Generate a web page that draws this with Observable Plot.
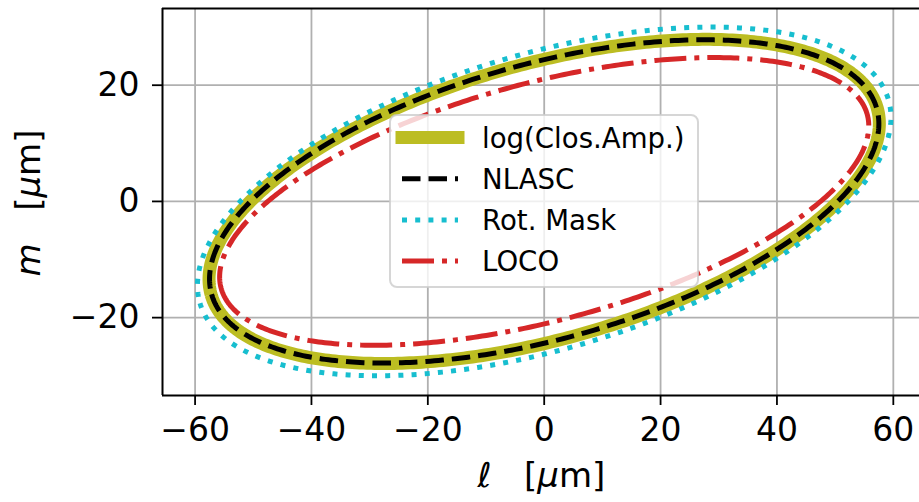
<!DOCTYPE html>
<html>
<head>
<meta charset="utf-8">
<script src="https://cdn.jsdelivr.net/npm/d3@7"></script>
<script src="https://cdn.jsdelivr.net/npm/@observablehq/plot@0.6"></script>
<style>
  html, body { margin: 0; padding: 0; background: #fff; }
  #wrap { position: relative; width: 919px; height: 502px; font-family: "DejaVu Sans", sans-serif; overflow: hidden; }
  .lab { position: absolute; font-size: 34px; line-height: 1; white-space: pre; color: #000; }
</style>
</head>
<body>
<div id="wrap"></div>
<script>
// ---- data (ellipse parameters, in µm / degrees) ----
const seriesNames = ["log(Clos.Amp.)", "NLASC", "Rot. Mask", "LOCO"];
const semiMajor   = [59.45, 59.35, 61.7, 57.5];
const semiMinor   = [23.7, 23.65, 25.4, 20.45];
const tiltDeg     = [15.65, 15.6, 16.5, 15.05];
const xTicks = [-60, -40, -20, 0, 20, 40, 60];
const yTicks = [-20, 0, 20];
const xDomain = [-65.6, 64.5];
const yDomain = [-33.4, 33.2];

// ---- styles ----
const styles = [
  {stroke: "#bcbd22", strokeWidth: 13, strokeDasharray: null},
  {stroke: "#000000", strokeWidth: 5, strokeDasharray: "18.5,8"},
  {stroke: "#17becf", strokeWidth: 5, strokeDasharray: "5,8.2"},
  {stroke: "#d62728", strokeWidth: 5, strokeDasharray: "32,8,5,8"}
];

// ellipse outline points from each series' parameters
const N = 480;
const curves = seriesNames.map((name, i) => {
  const a = semiMajor[i], b = semiMinor[i], th = tiltDeg[i] * Math.PI / 180;
  const pts = [];
  for (let k = 0; k <= N; k++) {
    const t = Math.PI + 2 * Math.PI * k / N;
    pts.push({
      series: name,
      l: a * Math.cos(t) * Math.cos(th) - b * Math.sin(t) * Math.sin(th),
      m: a * Math.cos(t) * Math.sin(th) + b * Math.sin(t) * Math.cos(th)
    });
  }
  return pts;
});

const chart = Plot.plot({
  width: 919,
  height: 502,
  marginLeft: 162,
  marginRight: 0,
  marginTop: 8,
  marginBottom: 107,
  style: {fontFamily: "DejaVu Sans, sans-serif", fontSize: "33px", color: "#000", background: "#fff"},
  x: {domain: xDomain},
  y: {domain: yDomain},
  marks: [
    Plot.gridX(xTicks, {stroke: "#b0b0b0", strokeOpacity: 1, strokeWidth: 1.8}),
    Plot.gridY(yTicks, {stroke: "#b0b0b0", strokeOpacity: 1, strokeWidth: 1.8}),
    ...curves.map((pts, i) => Plot.line(pts, {
      x: "l", y: "m",
      stroke: styles[i].stroke,
      strokeWidth: styles[i].strokeWidth,
      strokeDasharray: styles[i].strokeDasharray,
      strokeLinecap: "butt",
      strokeLinejoin: "round",
      curve: "linear"
    })),
    Plot.ruleX([xDomain[0]], {stroke: "#000", strokeWidth: 2}),
    Plot.ruleY(yDomain, {stroke: "#000", strokeWidth: 2}),
    Plot.axisX(xTicks, {tickSize: 10, tickPadding: 12, strokeWidth: 1.8, fontSize: 33, label: null}),
    Plot.axisY(yTicks, {tickSize: 10, tickPadding: 13, strokeWidth: 1.8, fontSize: 33, label: null})
  ]
});

const wrap = document.getElementById("wrap");
wrap.appendChild(chart);

// ---- axis labels ----
const xl = document.createElement("div");
xl.className = "lab";
xl.innerHTML = '<i>ℓ</i>   [<i>μ</i>m]';
xl.style.left = "0px"; xl.style.width = "1083px"; xl.style.textAlign = "center";
xl.style.top = "458px";
wrap.appendChild(xl);

const yl = document.createElement("div");
yl.className = "lab";
yl.innerHTML = '<i>m</i>   [<i>μ</i>m]';
yl.style.left = "28px"; yl.style.top = "203px";
yl.style.transform = "translate(-50%, -50%) rotate(-90deg)";
wrap.appendChild(yl);

// ---- legend ----
const ns = "http://www.w3.org/2000/svg";
const lg = document.createElementNS(ns, "svg");
lg.setAttribute("width", 919); lg.setAttribute("height", 502);
lg.style.position = "absolute"; lg.style.left = "0"; lg.style.top = "0";
const box = document.createElementNS(ns, "rect");
box.setAttribute("x", 390); box.setAttribute("y", 115);
box.setAttribute("width", 308); box.setAttribute("height", 172);
box.setAttribute("rx", 7);
box.setAttribute("fill", "rgba(255,255,255,0.8)");
box.setAttribute("stroke", "rgba(204,204,204,0.8)");
box.setAttribute("stroke-width", 2);
lg.appendChild(box);
seriesNames.forEach((name, i) => {
  const cy = 137.5 + i * 41.2;
  const ln = document.createElementNS(ns, "line");
  ln.setAttribute("x1", 402); ln.setAttribute("x2", 458);
  ln.setAttribute("y1", cy); ln.setAttribute("y2", cy);
  ln.setAttribute("stroke", styles[i].stroke);
  ln.setAttribute("stroke-width", styles[i].strokeWidth);
  ln.setAttribute("stroke-linecap", i === 0 ? "square" : "butt");
  if (styles[i].strokeDasharray) ln.setAttribute("stroke-dasharray", styles[i].strokeDasharray);
  lg.appendChild(ln);
  const tx = document.createElementNS(ns, "text");
  tx.setAttribute("x", 482); tx.setAttribute("y", cy + 10);
  tx.setAttribute("font-family", "DejaVu Sans, sans-serif");
  tx.setAttribute("font-size", 27.6);
  tx.setAttribute("fill", "#000");
  tx.textContent = name;
  lg.appendChild(tx);
});
wrap.appendChild(lg);
</script>
</body>
</html>
